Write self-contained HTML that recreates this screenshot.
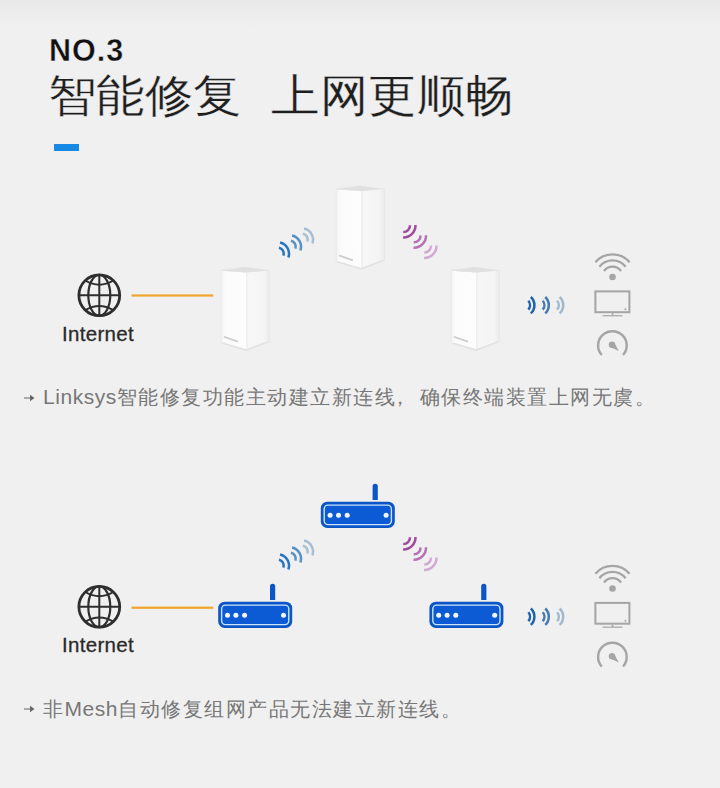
<!DOCTYPE html>
<html><head><meta charset="utf-8"><style>
html,body{margin:0;padding:0;}
body{width:720px;height:788px;position:relative;overflow:hidden;background:linear-gradient(#e9e9e9 0px,#f0f0f0 28px,#f0f0f0 100%);font-family:"Liberation Sans",sans-serif;}
.t{position:absolute;white-space:pre;}
#no{left:49px;top:35px;font-size:30.5px;line-height:30.5px;font-weight:bold;color:#111;letter-spacing:1px;-webkit-text-stroke:0.4px #efefef;}
#h1{left:47.5px;top:68px;font-size:48px;line-height:56px;color:#1e1e1e;letter-spacing:0.6px;-webkit-text-stroke:0.35px #f0f0f0;transform:scaleY(0.928);transform-origin:0 28px;}
#bar{position:absolute;left:54px;top:144px;width:25px;height:7px;background:#168ae2;}
.inet{position:absolute;left:62px;font-size:20.5px;line-height:24px;color:#2a2a2a;letter-spacing:0.3px;-webkit-text-stroke:0.3px #2a2a2a;}
.cap{position:absolute;left:43px;font-size:20px;line-height:26px;color:#777;letter-spacing:1.5px;}
.lat{font-size:21px;letter-spacing:0.55px;}
.arr{position:absolute;left:24px;width:11px;height:8px;}
</style></head><body>
<svg width="720" height="788" viewBox="0 0 720 788" style="position:absolute;left:0;top:0"><defs><linearGradient id="front" x1="0" x2="1" y1="0" y2="0"><stop offset="0" stop-color="#f3f3f3"/><stop offset="0.15" stop-color="#fbfbfb"/><stop offset="1" stop-color="#fdfdfd"/></linearGradient><linearGradient id="side" x1="0" x2="1" y1="0" y2="0"><stop offset="0" stop-color="#efefef"/><stop offset="0.12" stop-color="#f7f7f7"/><stop offset="0.8" stop-color="#f4f4f4"/><stop offset="1" stop-color="#ebebeb"/></linearGradient></defs><g fill="none" stroke="#2e2e2e"><circle cx="99.3" cy="295.3" r="20.4" stroke-width="2.8"/><ellipse cx="99.3" cy="295.3" rx="11" ry="20.4" stroke-width="2.2"/><path d="M99.3 274.90000000000003V315.7M78.9 295.3H119.69999999999999" stroke-width="2"/><path d="M85.3 280.5Q99.3 288.8 113.3 280.5M85.3 310.1Q99.3 301.8 113.3 310.1" stroke-width="2"/></g><rect x="131.6" y="294.4" width="81.6" height="2.2" fill="#f0a52c"/><path d="M220.79999999999998 269.79999999999995L244.7 266.79999999999995L269.9 270.2V342.2L246.2 351.2L220.79999999999998 343.59999999999997Z" fill="#e0e0e0" opacity="0.5"/><path d="M221.6 270.79999999999995L246.2 272.4V350.29999999999995L224.1 343.7Q221.6 343.0 221.6 340.4Z" fill="url(#front)"/><path d="M246.2 272.4L269.09999999999997 270.4V339.4Q269.09999999999997 341.7 266.59999999999997 342.4L246.2 350.29999999999995Z" fill="url(#side)"/><path d="M221.6 270.79999999999995L244.7 267.2L269.09999999999997 270.4L246.2 272.4Z" fill="#e0e0e0"/><path d="M223.1 343.2L246.2 349.79999999999995L267.59999999999997 341.79999999999995" fill="none" stroke="#e0e0e0" stroke-width="1.2"/><path d="M224.6 337.0L237.2 341.4" stroke="#cdcdcd" stroke-width="1.8" stroke-linecap="round"/><path d="M335.79999999999995 188.5L359.7 185.5L384.9 188.9V260.9L361.2 269.9L335.79999999999995 262.3Z" fill="#e0e0e0" opacity="0.5"/><path d="M336.59999999999997 189.5L361.2 191.1V269.0L339.09999999999997 262.4Q336.59999999999997 261.7 336.59999999999997 259.1Z" fill="url(#front)"/><path d="M361.2 191.1L384.09999999999997 189.1V258.1Q384.09999999999997 260.4 381.59999999999997 261.1L361.2 269.0Z" fill="url(#side)"/><path d="M336.59999999999997 189.5L359.7 185.9L384.09999999999997 189.1L361.2 191.1Z" fill="#e0e0e0"/><path d="M338.09999999999997 261.9L361.2 268.5L382.59999999999997 260.5" fill="none" stroke="#e0e0e0" stroke-width="1.2"/><path d="M339.59999999999997 255.7L352.2 260.1" stroke="#cdcdcd" stroke-width="1.8" stroke-linecap="round"/><path d="M450.79999999999995 269.79999999999995L474.7 266.79999999999995L499.9 270.2V342.2L476.2 351.2L450.79999999999995 343.59999999999997Z" fill="#e0e0e0" opacity="0.5"/><path d="M451.59999999999997 270.79999999999995L476.2 272.4V350.29999999999995L454.09999999999997 343.7Q451.59999999999997 343.0 451.59999999999997 340.4Z" fill="url(#front)"/><path d="M476.2 272.4L499.09999999999997 270.4V339.4Q499.09999999999997 341.7 496.59999999999997 342.4L476.2 350.29999999999995Z" fill="url(#side)"/><path d="M451.59999999999997 270.79999999999995L474.7 267.2L499.09999999999997 270.4L476.2 272.4Z" fill="#e0e0e0"/><path d="M453.09999999999997 343.2L476.2 349.79999999999995L497.59999999999997 341.79999999999995" fill="none" stroke="#e0e0e0" stroke-width="1.2"/><path d="M454.59999999999997 337.0L467.2 341.4" stroke="#cdcdcd" stroke-width="1.8" stroke-linecap="round"/><path d="M278.95 247.73A6 6 0 0 1 283.34 255.65M280.05 242.55A11.3 11.3 0 0 1 288.32 257.46" fill="none" stroke="#2a74c4" stroke-width="2.5"/><path d="M290.95 240.73A6 6 0 0 1 295.34 248.65M292.05 235.55A11.3 11.3 0 0 1 300.32 250.46" fill="none" stroke="#5690c8" stroke-width="2.5"/><path d="M302.95 233.73A6 6 0 0 1 307.34 241.65M304.05 228.55A11.3 11.3 0 0 1 312.32 243.46" fill="none" stroke="#a6bfd5" stroke-width="2.5"/><path d="M410.00 225.27A6.5 6.5 0 0 1 403.27 232.00M415.49 225.08A12 12 0 0 1 403.08 237.49" fill="none" stroke="#a04c9e" stroke-width="2.5"/><path d="M420.50 235.47A6.5 6.5 0 0 1 413.77 242.20M425.99 235.28A12 12 0 0 1 413.58 247.69" fill="none" stroke="#b670b4" stroke-width="2.5"/><path d="M431.00 245.67A6.5 6.5 0 0 1 424.27 252.40M436.49 245.48A12 12 0 0 1 424.08 257.89" fill="none" stroke="#d3a9d3" stroke-width="2.5"/><path d="M528.33 300.74A6.8 6.8 0 0 1 528.33 309.66M530.84 297.01A11.2 11.2 0 0 1 530.84 313.39" fill="none" stroke="#1d63b0" stroke-width="2.5"/><path d="M542.73 300.74A6.8 6.8 0 0 1 542.73 309.66M545.24 297.01A11.2 11.2 0 0 1 545.24 313.39" fill="none" stroke="#4479b3" stroke-width="2.5"/><path d="M557.13 300.74A6.8 6.8 0 0 1 557.13 309.66M559.64 297.01A11.2 11.2 0 0 1 559.64 313.39" fill="none" stroke="#a0b9d0" stroke-width="2.5"/><g fill="none" stroke="#a5a5a5" stroke-width="2.3"><path d="M603.98 271.03A10.4 10.4 0 0 1 621.02 271.03"/><path d="M599.42 266.78A16.6 16.6 0 0 1 625.58 266.78"/><path d="M595.44 262.17A22.6 22.6 0 0 1 629.56 262.17"/></g><circle cx="612.5" cy="277" r="3.3" fill="#a5a5a5"/><rect x="595.4" y="291.4" width="34" height="20.8" fill="none" stroke="#a5a5a5" stroke-width="2"/><circle cx="625.4" cy="309.3" r="1" fill="#a5a5a5"/><rect x="611.7" y="313.2" width="1.6" height="2.2" fill="#a5a5a5"/><rect x="602.5" y="315" width="20" height="1.4" fill="#b0b0b0"/><path d="M601.77 355.07A14.3 14.3 0 1 1 623.03 355.07" fill="none" stroke="#a5a5a5" stroke-width="2.4"/><circle cx="612" cy="344.7" r="3.2" fill="#a5a5a5"/><path d="M609.8 346.7L618.8 351.1L614.2 342.5Z" fill="#a5a5a5"/><g fill="none" stroke="#2e2e2e"><circle cx="99.3" cy="606.8" r="20.4" stroke-width="2.8"/><ellipse cx="99.3" cy="606.8" rx="11" ry="20.4" stroke-width="2.2"/><path d="M99.3 586.4V627.1999999999999M78.9 606.8H119.69999999999999" stroke-width="2"/><path d="M85.3 592.0Q99.3 600.3 113.3 592.0M85.3 621.5999999999999Q99.3 613.3 113.3 621.5999999999999" stroke-width="2"/></g><rect x="131.6" y="606.6" width="81.6" height="2.2" fill="#f0a52c"/><path d="M269.99999999999994 600.0V586.4000000000001A2.6 2.6 0 0 1 275.2 586.4000000000001V600.0Z" fill="#0b55c6"/><rect x="218.2" y="601.7" width="74" height="26.3" rx="6.5" fill="#0b55c6"/><rect x="221.6" y="605.1" width="67.2" height="19.5" rx="3.8" fill="#0c5bd4" stroke="#c9e3fc" stroke-width="1.4"/><circle cx="227.50" cy="615.30" r="2.5" fill="#f2f8ff"/><circle cx="235.90" cy="615.30" r="2.5" fill="#f2f8ff"/><circle cx="244.60" cy="615.30" r="2.5" fill="#f2f8ff"/><circle cx="283.50" cy="615.30" r="2.5" fill="#f2f8ff"/><path d="M372.59999999999997 500.0V486.4A2.6 2.6 0 0 1 377.8 486.4V500.0Z" fill="#0b55c6"/><rect x="320.8" y="501.7" width="74" height="26.3" rx="6.5" fill="#0b55c6"/><rect x="324.2" y="505.09999999999997" width="67.2" height="19.5" rx="3.8" fill="#0c5bd4" stroke="#c9e3fc" stroke-width="1.4"/><circle cx="330.10" cy="515.30" r="2.5" fill="#f2f8ff"/><circle cx="338.50" cy="515.30" r="2.5" fill="#f2f8ff"/><circle cx="347.20" cy="515.30" r="2.5" fill="#f2f8ff"/><circle cx="386.10" cy="515.30" r="2.5" fill="#f2f8ff"/><path d="M481.19999999999993 600.0V586.4000000000001A2.6 2.6 0 0 1 486.4 586.4000000000001V600.0Z" fill="#0b55c6"/><rect x="429.4" y="601.7" width="74" height="26.3" rx="6.5" fill="#0b55c6"/><rect x="432.79999999999995" y="605.1" width="67.2" height="19.5" rx="3.8" fill="#0c5bd4" stroke="#c9e3fc" stroke-width="1.4"/><circle cx="438.70" cy="615.30" r="2.5" fill="#f2f8ff"/><circle cx="447.10" cy="615.30" r="2.5" fill="#f2f8ff"/><circle cx="455.80" cy="615.30" r="2.5" fill="#f2f8ff"/><circle cx="494.70" cy="615.30" r="2.5" fill="#f2f8ff"/><path d="M278.95 559.73A6 6 0 0 1 283.34 567.65M280.05 554.55A11.3 11.3 0 0 1 288.32 569.46" fill="none" stroke="#2a74c4" stroke-width="2.5"/><path d="M290.95 552.73A6 6 0 0 1 295.34 560.65M292.05 547.55A11.3 11.3 0 0 1 300.32 562.46" fill="none" stroke="#5690c8" stroke-width="2.5"/><path d="M302.95 545.73A6 6 0 0 1 307.34 553.65M304.05 540.55A11.3 11.3 0 0 1 312.32 555.46" fill="none" stroke="#a6bfd5" stroke-width="2.5"/><path d="M410.00 537.27A6.5 6.5 0 0 1 403.27 544.00M415.49 537.08A12 12 0 0 1 403.08 549.49" fill="none" stroke="#a04c9e" stroke-width="2.5"/><path d="M420.50 547.47A6.5 6.5 0 0 1 413.77 554.20M425.99 547.28A12 12 0 0 1 413.58 559.69" fill="none" stroke="#b670b4" stroke-width="2.5"/><path d="M431.00 557.67A6.5 6.5 0 0 1 424.27 564.40M436.49 557.48A12 12 0 0 1 424.08 569.89" fill="none" stroke="#d3a9d3" stroke-width="2.5"/><path d="M528.33 612.24A6.8 6.8 0 0 1 528.33 621.16M530.84 608.51A11.2 11.2 0 0 1 530.84 624.89" fill="none" stroke="#1d63b0" stroke-width="2.5"/><path d="M542.73 612.24A6.8 6.8 0 0 1 542.73 621.16M545.24 608.51A11.2 11.2 0 0 1 545.24 624.89" fill="none" stroke="#4479b3" stroke-width="2.5"/><path d="M557.13 612.24A6.8 6.8 0 0 1 557.13 621.16M559.64 608.51A11.2 11.2 0 0 1 559.64 624.89" fill="none" stroke="#a0b9d0" stroke-width="2.5"/><g fill="none" stroke="#a5a5a5" stroke-width="2.3"><path d="M603.98 582.53A10.4 10.4 0 0 1 621.02 582.53"/><path d="M599.42 578.28A16.6 16.6 0 0 1 625.58 578.28"/><path d="M595.44 573.67A22.6 22.6 0 0 1 629.56 573.67"/></g><circle cx="612.5" cy="588.5" r="3.3" fill="#a5a5a5"/><rect x="595.4" y="602.9" width="34" height="20.8" fill="none" stroke="#a5a5a5" stroke-width="2"/><circle cx="625.4" cy="620.8" r="1" fill="#a5a5a5"/><rect x="611.7" y="624.7" width="1.6" height="2.2" fill="#a5a5a5"/><rect x="602.5" y="626.5" width="20" height="1.4" fill="#b0b0b0"/><path d="M601.77 666.57A14.3 14.3 0 1 1 623.03 666.57" fill="none" stroke="#a5a5a5" stroke-width="2.4"/><circle cx="612" cy="656.2" r="3.2" fill="#a5a5a5"/><path d="M609.8 658.2L618.8 662.6L614.2 654.0Z" fill="#a5a5a5"/></svg>
<div class="t" id="no">NO.3</div>
<div class="t" id="h1">智能修复<span style="display:inline-block;width:29px"></span>上网更顺畅</div>
<div id="bar"></div>
<div class="t inet" style="top:322px">Internet</div>
<div class="t inet" style="top:633px">Internet</div>
<svg class="arr" style="top:393.7px" viewBox="0 0 11 8"><path d="M0 3.4H7V4.6H0Z M6 0.8L10.5 4L6 7.2Z" fill="#666"/></svg>
<div class="t cap" style="top:384px"><span class="lat">Linksys</span>智能修复功能主动建立新连线<span style="position:relative;left:-6px;margin-right:2px">，</span>确保终端装置上网无虞。</div>
<svg class="arr" style="top:704.5px" viewBox="0 0 11 8"><path d="M0 3.4H7V4.6H0Z M6 0.8L10.5 4L6 7.2Z" fill="#666"/></svg>
<div class="t cap" style="top:696px">非<span class="lat">Mesh</span>自动修复组网产品无法建立新连线。</div>
</body></html>
